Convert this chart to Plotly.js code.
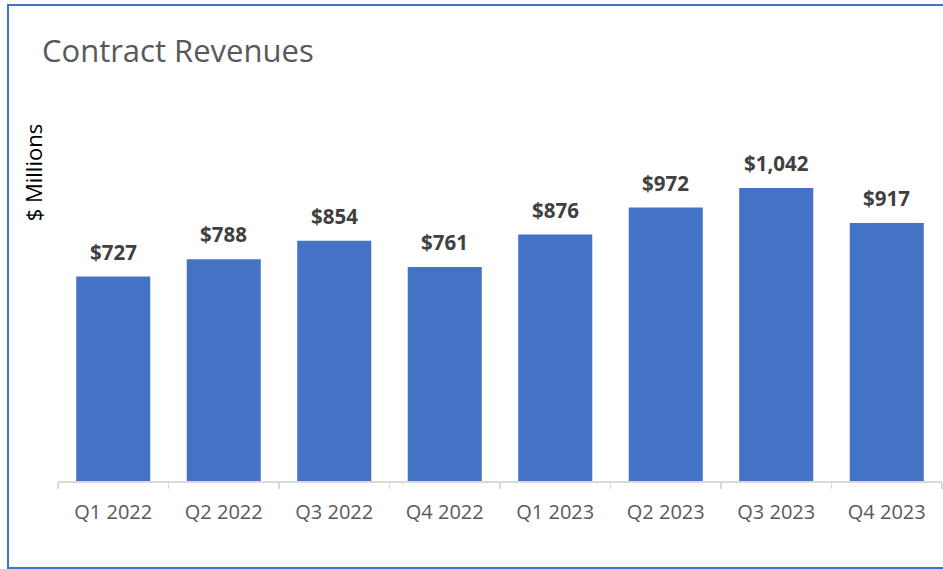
<!DOCTYPE html>
<html>
<head>
<meta charset="utf-8">
<script src="https://cdn.plot.ly/plotly-3.0.1.min.js"></script>
<style>
  html, body { margin: 0; padding: 0; background: #ffffff; }
  #wrap { position: relative; width: 943px; height: 569px; overflow: hidden; }
  #chart { position: absolute; left: 0; top: 0; width: 943px; height: 569px; }
  #frame { position: absolute; left: 7px; top: 4px; width: 980px; height: 561px;
           border: 2px solid #4472C4; pointer-events: none; }
</style>
</head>
<body>
<div id="wrap">
  <div id="chart"></div>
  <div id="frame"></div>
</div>
<script>
const categories = ["Q1 2022", "Q2 2022", "Q3 2022", "Q4 2022", "Q1 2023", "Q2 2023", "Q3 2023", "Q4 2023"];
const revenues = [727, 788, 854, 761, 876, 972, 1042, 917];
const labels = ["$727", "$788", "$854", "$761", "$876", "$972", "$1,042", "$917"];

const FONT = "Open Sans, Noto Sans, DejaVu Sans, sans-serif";

const trace = {
  type: "bar",
  x: categories,
  y: revenues,
  marker: { color: "#4472C4" },
  hoverinfo: "skip"
};

const annotations = categories.map((c, i) => ({
  x: c, y: revenues[i], xref: "x", yref: "y",
  text: labels[i], showarrow: false,
  yanchor: "bottom", yshift: 9,
  font: { family: FONT, size: 20.5, color: "#404040", weight: "bold" }
}));

annotations.push({
  xref: "paper", yref: "paper", x: -0.028, y: 0.79,
  xanchor: "center", yanchor: "middle",
  text: "$ Millions", textangle: -90, showarrow: false,
  font: { family: FONT, size: 22, color: "#000000" }
});

const layout = {
  width: 943, height: 569,
  margin: { l: 58, r: 1, t: 90, b: 88 },
  paper_bgcolor: "rgba(0,0,0,0)",
  plot_bgcolor: "rgba(0,0,0,0)",
  showlegend: false,
  bargap: 0.33,
  title: {
    text: "Contract Revenues",
    xref: "container", yref: "container",
    x: 0.0445, xanchor: "left",
    y: 1 - 51 / 569, yanchor: "middle",
    font: { family: FONT, size: 31, color: "#595959" }
  },
  xaxis: {
    type: "category",
    showline: true, linecolor: "#D9D9D9", linewidth: 1.5,
    ticks: "outside", tickson: "boundaries", ticklen: 6, tickcolor: "#D9D9D9", tickwidth: 1.5,
    ticklabelstandoff: 12,
    tickfont: { family: FONT, size: 20, color: "#595959" },
    showgrid: false, zeroline: false, fixedrange: true
  },
  yaxis: {
    range: [0, 1390],
    visible: false, showgrid: false, zeroline: false, fixedrange: true
  },
  annotations: annotations
};

Plotly.newPlot("chart", [trace], layout, { displayModeBar: false, staticPlot: true });
</script>
</body>
</html>
